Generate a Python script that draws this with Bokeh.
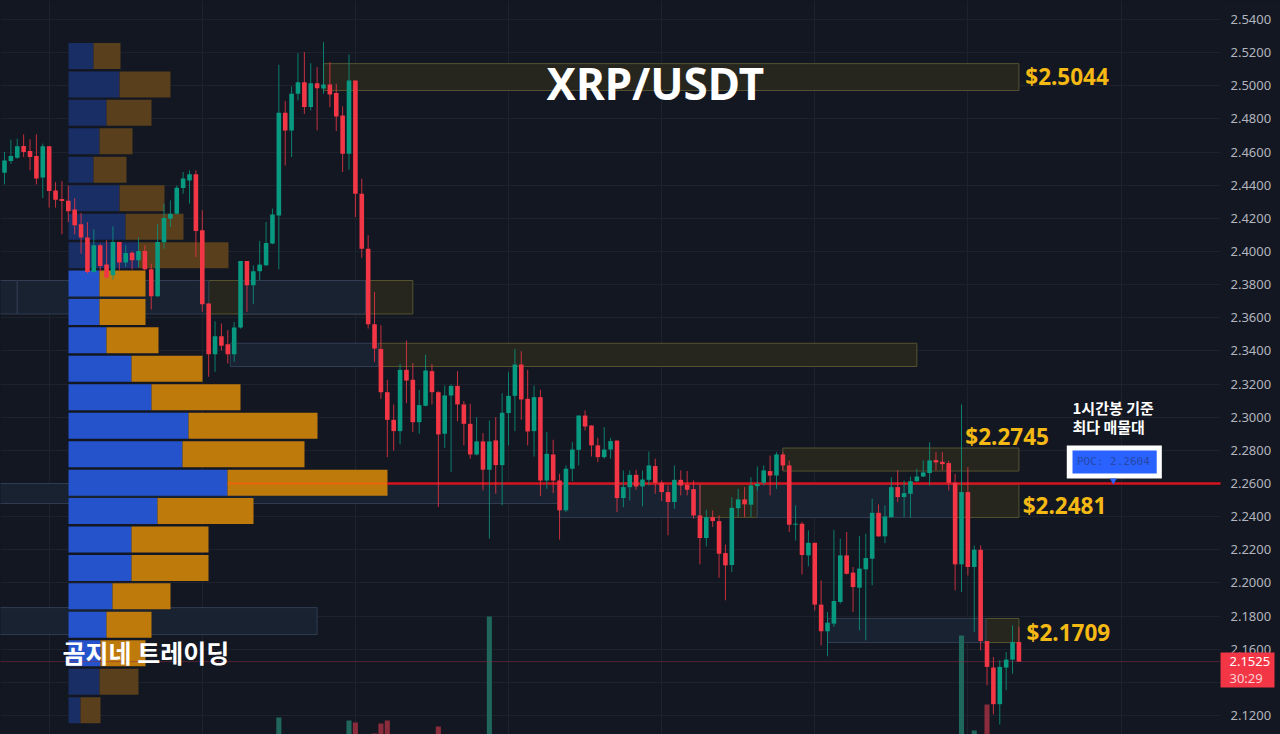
#!/usr/bin/python

from bokeh.plotting import figure
from bokeh.embed import file_html
from bokeh.resources import INLINE
from bokeh.models import Range1d, FixedTicker, NumeralTickFormatter, Label

BG = "#131722"
UP = "#089981"
DOWN = "#f23645"

# candles
opens = [
    2.4476,2.4546,2.4566,2.4637,2.4606,2.4576,2.4446,2.4635,2.4369,2.4317,
    2.4307,2.4253,2.4164,2.4084,2.3877,2.4038,2.3921,2.3857,2.4058,2.3933,
    2.3993,2.3947,2.4003,2.3893,2.3730,2.4056,2.4198,2.4228,2.4383,2.4429,
    2.4466,2.4128,2.3686,2.3380,2.3489,2.3441,2.3380,2.3541,2.3943,2.3796,
    2.3881,2.3917,2.4048,2.4218,2.4838,2.4731,2.4952,2.5022,2.4872,2.5016,
    2.4984,2.5008,2.4956,2.4821,2.4590,2.5032,2.4349,2.4017,2.3561,2.3412,
    2.3151,2.2984,2.2916,2.3286,2.3226,2.2970,2.3069,2.3278,2.3151,2.2900,
    2.3131,2.3189,2.3077,2.2960,2.2775,2.2854,2.2683,2.2860,2.2711,2.3025,
    2.3129,2.3318,2.3111,2.2916,2.3121,2.2618,2.2775,2.2618,2.2438,2.2689,
    2.2803,2.3010,2.2950,2.2830,2.2759,2.2805,2.2859,2.2512,2.2578,2.2652,
    2.2582,2.2622,2.2705,2.2604,2.2548,2.2488,2.2622,2.2592,2.2566,2.2407,
    2.2271,2.2397,2.2373,2.2180,2.2108,2.2451,2.2504,2.2472,2.2584,2.2604,
    2.2675,2.2648,2.2775,2.2709,2.2351,2.2357,2.2166,2.2242,2.1869,2.1708,
    2.1754,2.1885,2.2166,2.2062,2.1971,2.2082,2.2146,2.2423,2.2281,2.2397,
    2.2578,2.2518,2.2538,2.2614,2.2642,2.2663,2.2741,2.2731,2.2723,2.2604,
    2.2112,2.2548,2.2096,2.2200,2.1649,2.1489,2.1268,2.1489,2.1537,2.1643,
]
closes = [
    2.4550,2.4576,2.4635,2.4600,2.4570,2.4440,2.4635,2.4365,2.4313,2.4305,
    2.4243,2.4158,2.4084,2.3877,2.4038,2.3913,2.3843,2.4058,2.3933,2.3991,
    2.3947,2.4003,2.3893,2.3730,2.4058,2.4202,2.4228,2.4385,2.4440,2.4466,
    2.4124,2.3682,2.3380,2.3489,2.3431,2.3380,2.3541,2.3943,2.3796,2.3881,
    2.3921,2.4052,2.4224,2.4838,2.4731,2.4952,2.5022,2.4872,2.5016,2.4986,
    2.5008,2.4948,2.4815,2.4590,2.5032,2.4349,2.4017,2.3561,2.3414,2.3151,
    2.2984,2.2916,2.3286,2.3221,2.2970,2.3073,2.3282,2.3151,2.2896,2.3131,
    2.3189,2.3077,2.2960,2.2775,2.2854,2.2683,2.2854,2.2711,2.3027,2.3129,
    2.3318,2.3107,2.2914,2.3121,2.2618,2.2779,2.2618,2.2438,2.2689,2.2805,
    2.3010,2.2944,2.2830,2.2759,2.2805,2.2856,2.2512,2.2578,2.2652,2.2582,
    2.2624,2.2709,2.2604,2.2548,2.2488,2.2622,2.2588,2.2562,2.2407,2.2271,
    2.2397,2.2373,2.2176,2.2106,2.2453,2.2504,2.2474,2.2588,2.2598,2.2679,
    2.2648,2.2775,2.2709,2.2351,2.2357,2.2168,2.2242,2.1869,2.1708,2.1760,
    2.1891,2.2166,2.2055,2.1975,2.2086,2.2150,2.2423,2.2281,2.2401,2.2578,
    2.2518,2.2542,2.2614,2.2642,2.2667,2.2739,2.2727,2.2717,2.2604,2.2112,
    2.2548,2.2096,2.2200,2.1649,2.1493,2.1268,2.1493,2.1537,2.1643,2.1525,
]
highs = [
    2.4600,2.4675,2.4681,2.4707,2.4677,2.4707,2.4651,2.4635,2.4419,2.4425,
    2.4399,2.4323,2.4233,2.4178,2.4134,2.4048,2.4068,2.4152,2.4058,2.4038,
    2.4001,2.4084,2.4038,2.3927,2.4164,2.4289,2.4309,2.4399,2.4480,2.4490,
    2.4490,2.4249,2.3686,2.3579,2.3565,2.3525,2.3575,2.3943,2.3943,2.3917,
    2.4064,2.4178,2.4259,2.5127,2.4908,2.4996,2.5197,2.5203,2.5137,2.5113,
    2.5264,2.5143,2.5012,2.4876,2.5189,2.5032,2.4440,2.4098,2.3756,2.3555,
    2.3226,2.3077,2.3322,2.3463,2.3326,2.3165,2.3378,2.3322,2.3157,2.3191,
    2.3197,2.3278,2.3097,2.3081,2.3000,2.2904,2.2980,2.3000,2.3145,2.3272,
    2.3412,2.3398,2.3286,2.3191,2.3165,2.2910,2.2864,2.2659,2.2709,2.2850,
    2.3010,2.3041,2.2950,2.2876,2.2940,2.2876,2.2859,2.2679,2.2679,2.2683,
    2.2679,2.2793,2.2749,2.2618,2.2588,2.2709,2.2679,2.2675,2.2618,2.2598,
    2.2441,2.2437,2.2407,2.2232,2.2518,2.2568,2.2578,2.2638,2.2703,2.2709,
    2.2769,2.2789,2.2789,2.2739,2.2468,2.2367,2.2317,2.2242,2.2015,2.1824,
    2.2321,2.2267,2.2307,2.2096,2.2283,2.2297,2.2508,2.2474,2.2468,2.2638,
    2.2679,2.2618,2.2642,2.2689,2.2739,2.2849,2.2789,2.2789,2.2735,2.2658,
    2.3077,2.2699,2.2226,2.2226,2.1649,2.1553,2.1533,2.1583,2.1744,2.1734,
]
lows = [
    2.4405,2.4530,2.4560,2.4570,2.4490,2.4405,2.4323,2.4265,2.4265,2.4104,
    2.4178,2.4104,2.3987,2.3867,2.3871,2.3877,2.3837,2.3831,2.3887,2.3907,
    2.3891,2.3903,2.3887,2.3650,2.3726,2.4017,2.4148,2.4224,2.4349,2.4289,
    2.3967,2.3636,2.3244,2.3274,2.3404,2.3324,2.3334,2.3535,2.3636,2.3682,
    2.3826,2.3911,2.4044,2.3893,2.4520,2.4570,2.4912,2.4831,2.4852,2.4731,
    2.4952,2.4872,2.4727,2.4480,2.4494,2.4208,2.3963,2.3535,2.3334,2.3111,
    2.2759,2.2799,2.2836,2.3085,2.2910,2.2900,2.3065,2.3077,2.2458,2.2815,
    2.2669,2.2976,2.2830,2.2749,2.2769,2.2558,2.2267,2.2538,2.2468,2.2830,
    2.2916,2.2984,2.2830,2.2763,2.2524,2.2568,2.2542,2.2261,2.2428,2.2614,
    2.2709,2.2920,2.2763,2.2729,2.2749,2.2749,2.2427,2.2457,2.2498,2.2562,
    2.2462,2.2588,2.2538,2.2494,2.2287,2.2447,2.2528,2.2528,2.2387,2.2112,
    2.2220,2.2337,2.2031,2.1895,2.2066,2.2397,2.2397,2.2397,2.2558,2.2588,
    2.2528,2.2568,2.2679,2.2307,2.2256,2.2051,2.2100,2.1834,2.1623,2.1557,
    2.1734,2.1875,2.2051,2.1824,2.1714,2.1653,2.1985,2.2277,2.2240,2.2393,
    2.2488,2.2397,2.2393,2.2608,2.2638,2.2588,2.2679,2.2679,2.2558,2.1955,
    2.1945,2.2045,2.1704,2.1593,2.1382,2.1207,2.1145,2.1352,2.1452,2.1525,
]

# volume bars along the bottom, only the ones tall enough to be seen
vol_bar = [44, 55, 56, 59, 60, 61, 69, 77, 151, 153, 155]
vol_height = [63, 60, 58, 47, 57, 60, 54, 164, 145, 50, 76]
vol_up = [True, True, False, False, False, False, False, True, True, True, False]

# volume profile rows
row_price = [2.5180, 2.5008, 2.4837, 2.4665, 2.4493, 2.4322, 2.4150, 2.3978,
             2.3807, 2.3635, 2.3464, 2.3292, 2.3120, 2.2949, 2.2777, 2.2605,
             2.2434, 2.2262, 2.2090, 2.1919, 2.1747, 2.1575, 2.1404, 2.1232]
row_buy = [25, 51, 38, 31, 25, 51, 57, 70, 31, 31, 38, 63,
           83, 120, 114, 159, 89, 63, 63, 44, 38, 32, 31, 12]
row_sell = [27, 51, 45, 33, 33, 45, 58, 90, 46, 46, 52, 71,
            89, 129, 122, 160, 96, 77, 77, 58, 45, 45, 39, 20]
row_dim = [True] * 8 + [False] * 14 + [True] * 2

# order blocks: left bar, right bar, top price, bottom price
blue_left = [-1, 3, 38, 36.4, -1, 88, 119, 124.2, 140, 130, -1]
blue_right = [3, 33, 57.6, 59.6, 102, 110, 124, 140, 150, 154.8, 50]
blue_top = [2.3825, 2.3825, 2.3825, 2.3446, 2.2600, 2.2594, 2.2594, 2.2594, 2.2594, 2.1785, 2.1851]
blue_bot = [2.3623, 2.3623, 2.3623, 2.3306, 2.2479, 2.2395, 2.2395, 2.2395, 2.2395, 2.1640, 2.1688]

olive_left = [51, 33, 59.6, 123, 110, 124.2, 150, 154.8]
olive_right = [160, 65, 144, 160, 119, 140, 160, 160]
olive_top = [2.5134, 2.3825, 2.3446, 2.2814, 2.2594, 2.2594, 2.2594, 2.1785]
olive_bot = [2.4972, 2.3623, 2.3306, 2.2675, 2.2395, 2.2395, 2.2395, 2.1640]

price_ticks = [2.12, 2.14, 2.16, 2.18, 2.20, 2.22, 2.24, 2.26, 2.28, 2.30, 2.32,
               2.34, 2.36, 2.38, 2.40, 2.42, 2.44, 2.46, 2.48, 2.50, 2.52, 2.54]
time_ticks = [8, 32, 56, 80, 104, 128, 152, 176]

LAST_PRICE = 2.1525
POC_PRICE = 2.2604
PLOT_END = 191.6  # price scale starts here, frame runs on under it

p = figure(
    width=1280, height=734,
    x_range=Range1d(0.373, 201),
    y_range=Range1d(2.1085, 2.5515),
    y_axis_location="right",
    output_backend="svg",
    toolbar_location=None,
    min_border=0,
    background_fill_color=BG,
    border_fill_color=BG,
    outline_line_color=None,
    styles={"background-color": BG},  # no white showing through at the frame edge
)
p.xaxis.visible = False
p.xgrid.ticker = FixedTicker(ticks=time_ticks)
p.ygrid.ticker = FixedTicker(ticks=price_ticks)
p.xgrid.grid_line_color = "#1e222d"
p.ygrid.grid_line_color = "#1e222d"

# fixed_location takes the axis out of the side panel, so the price tag can lie over it
ax = p.yaxis[0]
ax.fixed_location = PLOT_END
ax.ticker = FixedTicker(ticks=price_ticks)
ax.formatter = NumeralTickFormatter(format="0.0000")
ax.axis_line_color = None
ax.major_tick_line_color = None
ax.major_tick_in = 0
ax.major_tick_out = 0
ax.minor_tick_line_color = None
ax.minor_tick_in = 0
ax.minor_tick_out = 0
ax.major_label_text_color = "#b2b5be"
ax.major_label_text_font = "Noto Sans"
ax.major_label_text_font_size = "13px"
ax.major_label_standoff = 10

# profile and volume have their own scales, not the price one
p.extra_x_ranges["profile"] = Range1d(-68, 1212)
p.extra_y_ranges["volume"] = Range1d(46, 780)

# grid stops where the price scale begins
p.quad(left=[PLOT_END], right=[201], top=[2.5515], bottom=[2.1085], fill_color=BG, line_color=None)

p.quad(left=olive_left, right=olive_right, top=olive_top, bottom=olive_bot,
       fill_color="#26261f", line_color="#55532f", line_width=1)
p.quad(left=blue_left, right=blue_right, top=blue_top, bottom=blue_bot,
       fill_color="#192231", line_color="#303d52", line_width=1)

p.vbar(x=vol_bar, width=0.8, top=vol_height, bottom=0, y_range_name="volume",
       fill_color=["#1f665c" if u else "#8b2c3c" for u in vol_up], line_color=None)

buy_colors = ["#1a2e66" if d else "#2553cc" for d in row_dim]
sell_colors = ["#5a3f1c" if d else "#bf7a0c" for d in row_dim]
row_total = [b + s for b, s in zip(row_buy, row_sell)]
p.hbar(y=row_price, height=0.0157, left=0, right=row_buy, x_range_name="profile",
       fill_color=buy_colors, line_color=None)
p.hbar(y=row_price, height=0.0157, left=row_buy, right=row_total, x_range_name="profile",
       fill_color=sell_colors, line_color=None)

# price lines
p.segment(x0=0.373, x1=PLOT_END, y0=LAST_PRICE, y1=LAST_PRICE, line_color="#8f2f43", line_width=1, line_dash="1 1")
p.segment(x0=36, x1=61, y0=2.26, y1=2.26, line_color="#e8660c", line_width=2)
p.segment(x0=61, x1=PLOT_END, y0=2.26, y1=2.26, line_color="#d4141f", line_width=2.5)

# candles
bars = list(range(1, len(opens) + 1))
colors = [UP if c >= o else DOWN for o, c in zip(opens, closes)]
p.segment(x0=bars, x1=bars, y0=lows, y1=highs, line_color=colors, line_width=1, line_alpha=0.8)
p.vbar(x=bars, width=0.72, top=opens, bottom=closes, fill_color=colors, line_color=None)

# POC box
p.quad(left=[167.5], right=[182.4], top=[2.2829], bottom=[2.2630], fill_color="white", line_color=None)
p.quad(left=[168.4], right=[181.6], top=[2.2799], bottom=[2.2660], fill_color="#2962ff", line_color=None)
p.scatter(x=[174.8], y=[2.2618], marker="inverted_triangle", size=7, fill_color="#2962ff", line_color=None)

# last price tag goes over the axis labels
p.quad(left=[PLOT_END], right=[200.06], top=[2.1580], bottom=[2.1369], fill_color=DOWN, line_color=None, level="overlay")


def add_text(x, y, text, color, size, font="Noto Sans", style="bold", align="left", level="annotation"):
    p.add_layout(Label(x=x, y=y, text=text, text_color=color, text_font=font,
                       text_font_size=size, text_font_style=style,
                       text_align=align, text_baseline="middle", level=level))


add_text(103, 2.5018, "XRP/USDT", "white", "44px", align="center")
add_text(161.0, 2.5056, "$2.5044", "#f5b914", "22.5px")
add_text(151.6, 2.2882, "$2.2745", "#f5b914", "22.5px")
add_text(160.6, 2.2466, "$2.2481", "#f5b914", "22.5px")
add_text(161.2, 2.1700, "$2.1709", "#f5b914", "22.5px")
add_text(10.1, 2.1584, "곰지네 트레이딩", "white", "25px", font="Noto Sans CJK KR")
add_text(168.4, 2.3057, "1시간봉 기준", "white", "15px", font="Noto Sans CJK KR")
add_text(168.4, 2.2942, "최다 매물대", "white", "15px", font="Noto Sans CJK KR")
add_text(174.8, 2.2733, "POC: 2.2604", "#2647a6", "11px", font="DejaVu Sans Mono", style="normal", align="center")
add_text(193.0, LAST_PRICE, "2.1525", "white", "13px", style="normal", level="overlay")
add_text(193.0, 2.1429, "30:29", "#fbd0d5", "13px", style="normal", level="overlay")

open("out.html", "w").write(file_html(p, INLINE))
